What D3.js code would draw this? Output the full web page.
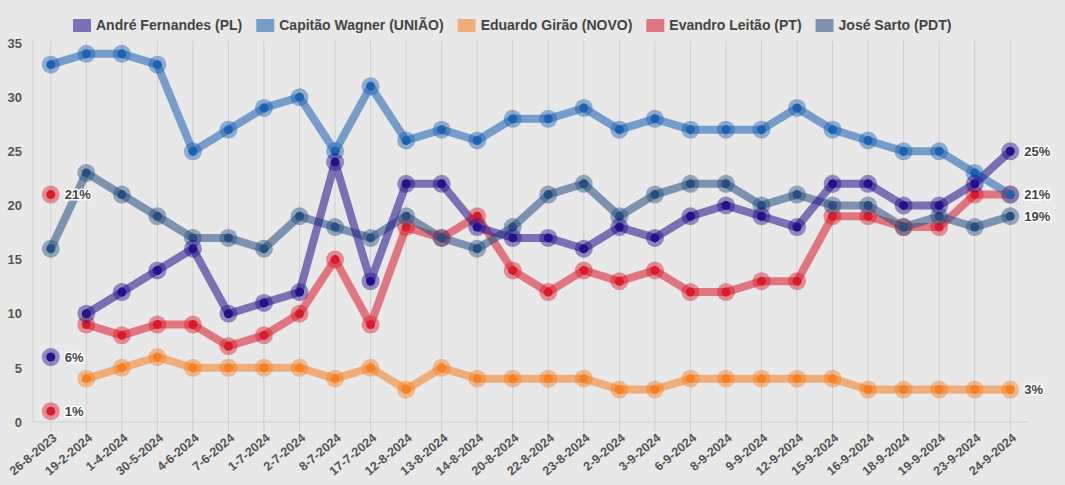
<!DOCTYPE html>
<html>
<head>
<meta charset="utf-8">
<script src="https://cdn.jsdelivr.net/npm/d3@7"></script>
<style>
  html, body { margin: 0; padding: 0; background: #e8e8e8; }
  svg { display: block; font-family: "Liberation Sans", Arial, sans-serif; }
</style>
</head>
<body>
<svg id="chart" width="1065" height="485"></svg>
<script>
const categories = ["26-8-2023","19-2-2024","1-4-2024","30-5-2024","4-6-2024","7-6-2024","1-7-2024","2-7-2024","8-7-2024","17-7-2024","12-8-2024","13-8-2024","14-8-2024","20-8-2024","22-8-2024","23-8-2024","2-9-2024","3-9-2024","6-9-2024","8-9-2024","9-9-2024","12-9-2024","15-9-2024","16-9-2024","18-9-2024","19-9-2024","23-9-2024","24-9-2024"];

const seriesNames = ["André Fernandes (PL)","Capitão Wagner (UNIÃO)","Eduardo Girão (NOVO)","Evandro Leitão (PT)","José Sarto (PDT)"];

const andre   = [null,10,12,14,16,10,11,12,24,13,22,22,18,17,17,16,18,17,19,20,19,18,22,22,20,20,22,25];
const capitao = [33,34,34,33,25,27,29,30,25,31,26,27,26,28,28,29,27,28,27,27,27,29,27,26,25,25,23,21];
const eduardo = [null,4,5,6,5,5,5,5,4,5,3,5,4,4,4,4,3,3,4,4,4,4,4,3,3,3,3,3];
const evandro = [null,9,8,9,9,7,8,10,15,9,18,17,19,14,12,14,13,14,12,12,13,13,19,19,18,18,21,21];
const sarto   = [16,23,21,19,17,17,16,19,18,17,19,17,16,18,21,22,19,21,22,22,20,21,20,20,18,19,18,19];

// isolated labelled points on the first date
const isolatedSeries = ["Evandro Leitão (PT)","André Fernandes (PL)","Evandro Leitão (PT)"];
const isolatedValues = [21, 6, 1];

const yTicks = [0,5,10,15,20,25,30,35];

const colors = {
  "André Fernandes (PL)": "#24128a",
  "Capitão Wagner (UNIÃO)": "#1d62b2",
  "Eduardo Girão (NOVO)": "#f57f22",
  "Evandro Leitão (PT)": "#d91c2c",
  "José Sarto (PDT)": "#284f80"
};

const valuesByName = {
  "André Fernandes (PL)": andre,
  "Capitão Wagner (UNIÃO)": capitao,
  "Eduardo Girão (NOVO)": eduardo,
  "Evandro Leitão (PT)": evandro,
  "José Sarto (PDT)": sarto
};
const drawOrder = ["Eduardo Girão (NOVO)","Evandro Leitão (PT)","José Sarto (PDT)","Capitão Wagner (UNIÃO)","André Fernandes (PL)"];

const svg = d3.select("#chart");
const mLeft = 33, mRight = 1028, mTop = 43, mBottom = 422;

const x = d3.scaleBand().domain(categories).range([mLeft, mRight]).padding(0);
const cx = d => x(d) + x.bandwidth() / 2;
const y = d3.scaleLinear().domain([0, 35]).range([mBottom, mTop]);

// vertical gridlines + tick marks
svg.append("g").selectAll("line").data(categories).join("line")
  .attr("x1", d => cx(d)).attr("x2", d => cx(d))
  .attr("y1", mTop - 2).attr("y2", mBottom + 10)
  .attr("stroke", "#cfcfcf").attr("stroke-width", 1);

// axis lines
svg.append("line").attr("x1", mLeft).attr("x2", mLeft).attr("y1", mTop - 2).attr("y2", mBottom)
  .attr("stroke", "#cfcfcf");
svg.append("line").attr("x1", mLeft).attr("x2", mRight).attr("y1", mBottom).attr("y2", mBottom)
  .attr("stroke", "#cfcfcf");

// y axis labels
const yAxis = d3.axisLeft(y).tickValues(yTicks).tickSize(0).tickPadding(11);
const gy = svg.append("g").attr("transform", `translate(${mLeft},0)`).call(yAxis);
gy.select(".domain").remove();
gy.selectAll("text").attr("font-size", 13).attr("font-weight", "bold").attr("fill", "#555")
  .attr("font-family", "Liberation Sans, Arial, sans-serif");

// x axis labels
const xAxis = d3.axisBottom(x).tickSize(0).tickPadding(0);
const gx = svg.append("g").attr("transform", `translate(0,${mBottom})`).call(xAxis);
gx.select(".domain").remove();
gx.selectAll("text")
  .attr("font-size", 12.5).attr("font-weight", "bold").attr("fill", "#555")
  .attr("font-family", "Liberation Sans, Arial, sans-serif")
  .attr("text-anchor", "end")
  .attr("dy", "0.35em")
  .attr("transform", "translate(4,14) rotate(-40)");

// lines
const line = d3.line()
  .defined(d => d.v !== null)
  .x(d => cx(d.c)).y(d => y(d.v));

const gLines = svg.append("g");
const gPts = svg.append("g");
drawOrder.forEach(name => {
  const data = categories.map((c, i) => ({c, v: valuesByName[name][i]}));
  gLines.append("path").datum(data)
    .attr("d", line)
    .attr("fill", "none")
    .attr("stroke", colors[name])
    .attr("stroke-opacity", 0.56)
    .attr("stroke-width", 8)
    .attr("stroke-linejoin", "round");
});
drawOrder.forEach(name => {
  const data = categories.map((c, i) => ({c, v: valuesByName[name][i]})).filter(d => d.v !== null);
  const g = gPts.append("g");
  g.selectAll("circle.o").data(data).join("circle").attr("class","o")
    .attr("cx", d => cx(d.c)).attr("cy", d => y(d.v)).attr("r", 9)
    .attr("fill", colors[name]).attr("fill-opacity", 0.45);
  g.selectAll("circle.i").data(data).join("circle").attr("class","i")
    .attr("cx", d => cx(d.c)).attr("cy", d => y(d.v)).attr("r", 4.5)
    .attr("fill", colors[name]);
});

// isolated points
const iso = isolatedValues.map((v, i) => ({name: isolatedSeries[i], v, c: categories[0]}));
const gIso = svg.append("g");
gIso.selectAll("circle.o").data(iso).join("circle").attr("class","o")
  .attr("cx", d => cx(d.c)).attr("cy", d => y(d.v)).attr("r", 9)
  .attr("fill", d => colors[d.name]).attr("fill-opacity", 0.45);
gIso.selectAll("circle.i").data(iso).join("circle").attr("class","i")
  .attr("cx", d => cx(d.c)).attr("cy", d => y(d.v)).attr("r", 4.5)
  .attr("fill", d => colors[d.name]);

// value labels
const labelData = iso.map(d => ({c: d.c, v: d.v}));
const lastC = categories[categories.length - 1];
drawOrder.forEach(name => {
  const arr = valuesByName[name];
  labelData.push({c: lastC, v: arr[arr.length - 1]});
});
svg.append("g").selectAll("text").data(labelData).join("text")
  .attr("x", d => cx(d.c) + 14).attr("y", d => y(d.v))
  .attr("dy", "0.36em")
  .attr("font-size", 13).attr("font-weight", "bold").attr("fill", "#444")
  .attr("stroke", "#fff").attr("stroke-width", 3).attr("paint-order", "stroke")
  .attr("stroke-linejoin", "round")
  .text(d => d.v + "%");

// legend
const legend = svg.append("g");
let lx = 73;
seriesNames.forEach(name => {
  legend.append("rect").attr("x", lx).attr("y", 19).attr("width", 18).attr("height", 13)
    .attr("fill", colors[name]).attr("fill-opacity", 0.56);
  const t = legend.append("text").attr("x", lx + 23).attr("y", 30)
    .attr("font-size", 14).attr("font-weight", "bold").attr("fill", "#444")
    .text(name);
  lx += 23 + t.node().getComputedTextLength() + 14;
});
</script>
</body>
</html>
